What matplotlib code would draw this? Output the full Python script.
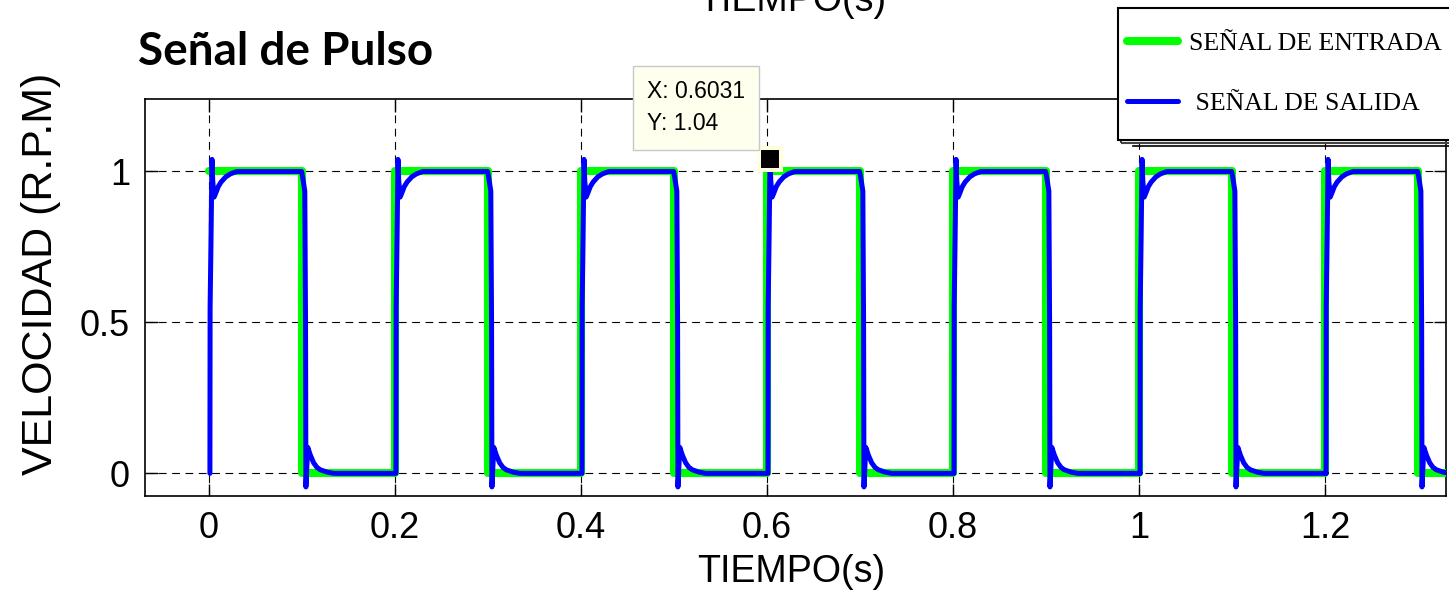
import numpy as np
import matplotlib
matplotlib.use('Agg')
import matplotlib.pyplot as plt
from matplotlib.lines import Line2D
from matplotlib.patches import Rectangle

plt.rcParams['font.family'] = ['Liberation Sans', 'DejaVu Sans']

# Señal de entrada (pulso de periodo 0.2 s)
entrada_t = [0.0, 0.1, 0.1, 0.2, 0.2, 0.3, 0.3, 0.4, 0.4, 0.5, 0.5, 0.6, 0.6, 0.7,
             0.7, 0.8, 0.8, 0.9, 0.9, 1.0, 1.0, 1.1, 1.1, 1.2, 1.2, 1.3, 1.3, 1.4]
entrada_y = [1, 1, 0, 0, 1, 1, 0, 0, 1, 1, 0, 0, 1, 1,
             0, 0, 1, 1, 0, 0, 1, 1, 0, 0, 1, 1, 0, 0]

# Respuesta en un periodo (tiempo relativo al inicio del pulso)
ciclo_t = [0.0010, 0.0012, 0.0022, 0.0032, 0.0040, 0.0055, 0.0075, 0.0100, 0.0130,
           0.0180, 0.0230, 0.0300, 0.0995, 0.1005, 0.1030, 0.1038, 0.1042, 0.1052,
           0.1062, 0.1090, 0.1125, 0.1160, 0.1195, 0.1270, 0.1340, 0.2010]
ciclo_y = [0.00, 0.55, 0.78, 1.04, 0.97, 0.915, 0.93, 0.95, 0.965,
           0.982, 0.992, 1.00, 1.00, 0.985, 0.935, 0.50, -0.045, 0.02,
           0.086, 0.06, 0.035, 0.02, 0.012, 0.004, 0.0, 0.0]
inicios = [0.0, 0.2, 0.4, 0.6, 0.8, 1.0, 1.2]

salida_t = np.concatenate([np.array(ciclo_t) + t0 for t0 in inicios])
salida_y = np.tile(ciclo_y, len(inicios))

ticks_x = [0, 0.2, 0.4, 0.6, 0.8, 1.0, 1.2]
etiquetas_x = ['0', '0.2', '0.4', '0.6', '0.8', '1', '1.2']
ticks_y = [0, 0.5, 1]
etiquetas_y = ['0', '0.5', '1']

punto_x, punto_y = 0.6031, 1.04

W, H = 1449, 593
fig = plt.figure(figsize=(W / 100, H / 100), dpi=100)
ax = fig.add_axes([145 / W, 1 - 496 / H, (1446 - 145) / W, (496 - 99) / H])

l1, = ax.plot(entrada_t, entrada_y, color='#00ff00', lw=5.8,
              solid_joinstyle='round', solid_capstyle='round', zorder=3)
l2, = ax.plot(salida_t, salida_y, color='#0000ff', lw=3.6,
              solid_joinstyle='round', solid_capstyle='round', zorder=4)

ax.set_xlim(-0.0688, 1.330)
ax.set_ylim(-0.075, 1.240)
ax.set_xticks(ticks_x)
ax.set_xticklabels(etiquetas_x)
ax.set_yticks(ticks_y)
ax.set_yticklabels(etiquetas_y)
ax.tick_params(direction='in', length=9, width=1, top=True, right=True,
               labelsize=26, pad=10.8)
ax.grid(True, color='k', linestyle=(0, (7, 5)), linewidth=0.8)
for s in ax.spines.values():
    s.set_linewidth(1.2)

ax.set_xlabel('TIEMPO(s)', fontsize=27)
ax.xaxis.set_label_coords(0.497, -0.145)
ax.set_ylabel('VELOCIDAD (R.P.M)', fontsize=31)
ax.yaxis.set_label_coords(-0.0646, 0.559)

# datatip
ax.plot([punto_x], [punto_y], marker='s', ms=15.8, mfc='k', mec='#ffffe0',
        mew=2.9, zorder=7, clip_on=False)
ax.annotate('X: 0.6031\nY: 1.04', xy=(punto_x, punto_y), xytext=(-123, 79),
            textcoords='offset pixels', ha='left', va='top', fontsize=16.5,
            linespacing=1.5, zorder=8,
            bbox=dict(boxstyle='square,pad=0.62', facecolor='#ffffee',
                      edgecolor='#c8c8c8', lw=1))

# textos de la figura
fig.text(138 / W, 1 - 65 / H, 'Señal de Pulso', family=['Lato', 'DejaVu Sans'],
         weight='bold', fontsize=33, ha='left', va='baseline')
fig.text(792 / W, 1 - 11 / H, 'TIEMPO(s)', fontsize=27, ha='center', va='baseline')

# leyenda
fig.add_artist(Rectangle((1121 / W, 1 - 143 / H), 340 / W, 132 / H,
                         transform=fig.transFigure, facecolor='none',
                         edgecolor='#444444', lw=1.5, zorder=3))
fig.add_artist(Rectangle((1118 / W, 1 - 140 / H), 340 / W, 132 / H,
                         transform=fig.transFigure, facecolor='white',
                         edgecolor='k', lw=1.5, zorder=4))
fig.add_artist(Line2D([1133 / W, 1], [1 - 146 / H, 1 - 146 / H],
                      transform=fig.transFigure, color='k', lw=1.2))
fig.legend(handles=[l1, l2], labels=['SEÑAL DE ENTRADA', ' SEÑAL DE SALIDA'],
           loc='upper left', bbox_to_anchor=(1127 / W, 1 - 32 / H),
           frameon=False, prop={'family': 'Liberation Serif', 'size': 18.6},
           handlelength=1.97, handletextpad=0.43, labelspacing=1.42,
           borderpad=0, borderaxespad=0)

fig.savefig('out.png', dpi=100)
